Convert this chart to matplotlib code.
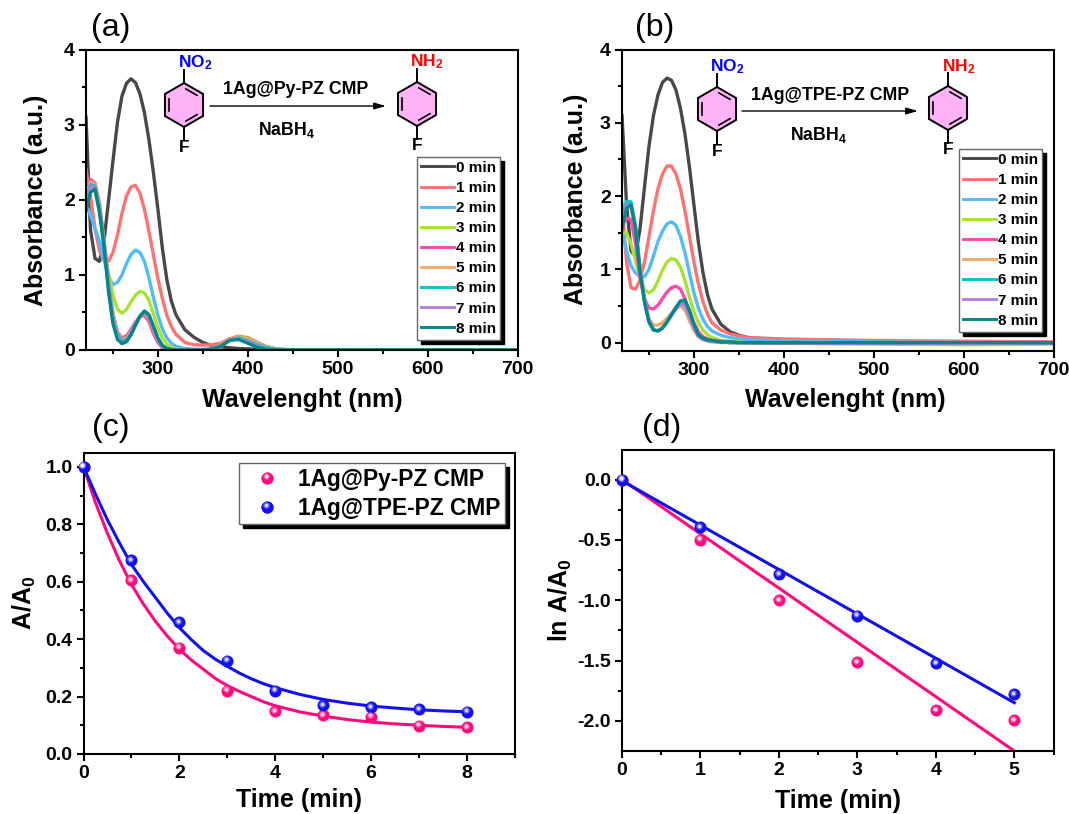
import matplotlib
matplotlib.use("Agg")
import matplotlib.pyplot as plt
from matplotlib.lines import Line2D
from matplotlib.patches import Polygon
from matplotlib.transforms import offset_copy

plt.rcParams['font.family'] = ['Liberation Sans', 'DejaVu Sans']
plt.rcParams['font.weight'] = 'bold'
plt.rcParams['axes.labelweight'] = 'bold'
plt.rcParams['axes.unicode_minus'] = False
plt.rcParams['mathtext.default'] = 'regular'

W, H = 1069, 814

minutes = ['0 min', '1 min', '2 min', '3 min', '4 min', '5 min', '6 min', '7 min', '8 min']
line_colors = ['#484848', '#ff7272', '#52baff', '#a6e32f', '#ff48a8', '#f5a866', '#00c6c6', '#b17fe0', '#00878a']

# panel (a) spectra
wl_a = [220, 225, 230, 235, 240, 245, 250, 255, 260, 265, 270, 275, 280, 285, 290, 295, 300, 305, 310, 315, 320,
        330, 340, 350, 360, 370, 380, 390, 400, 410, 420, 430, 440, 450, 500, 700]
a_0 = [3.1, 1.6, 1.22, 1.18, 1.45, 1.98, 2.52, 3.03, 3.38, 3.55, 3.61, 3.56, 3.41, 3.16, 2.8, 2.36, 1.87, 1.35, 0.93, 0.65, 0.47,
       0.27, 0.17, 0.1, 0.06, 0.04, 0.03, 0.02, 0.015, 0.01, 0.005, 0, 0, 0, 0, 0]
a_1 = [2.4, 2.05, 1.62, 1.32, 1.19, 1.18, 1.3, 1.53, 1.82, 2.05, 2.17, 2.19, 2.09, 1.87, 1.58, 1.26, 0.95, 0.68, 0.46, 0.31, 0.21,
       0.1, 0.07, 0.065, 0.07, 0.09, 0.15, 0.185, 0.165, 0.105, 0.05, 0.02, 0.01, 0.003, 0, 0]
a_2 = [1.95, 1.8, 1.62, 1.45, 1.2, 0.97, 0.87, 0.9, 1.0, 1.15, 1.27, 1.33, 1.3, 1.18, 0.96, 0.7, 0.46, 0.28, 0.16, 0.09, 0.05,
       0.02, 0.01, 0.01, 0.02, 0.06, 0.13, 0.17, 0.145, 0.09, 0.04, 0.015, 0.005, 0, 0, 0]
a_3 = [2.05, 2.15, 2.12, 1.85, 1.4, 1.02, 0.73, 0.54, 0.49, 0.54, 0.64, 0.73, 0.78, 0.76, 0.66, 0.48, 0.3, 0.16, 0.08, 0.03, 0.01,
       0, 0, 0, 0.01, 0.06, 0.13, 0.175, 0.15, 0.09, 0.04, 0.015, 0.005, 0, 0, 0]
a_4 = [2.1, 2.27, 2.22, 1.95, 1.45, 0.92, 0.47, 0.24, 0.16, 0.19, 0.27, 0.37, 0.44, 0.46, 0.38, 0.22, 0.1, 0.03, 0, 0, 0,
       0, 0, 0, 0.01, 0.06, 0.13, 0.16, 0.13, 0.08, 0.03, 0.01, 0, 0, 0, 0]
a_5 = [2.05, 2.24, 2.2, 1.93, 1.47, 0.93, 0.48, 0.23, 0.14, 0.16, 0.24, 0.35, 0.44, 0.49, 0.43, 0.27, 0.13, 0.05, 0.01, 0, 0,
       0, 0, 0, 0.01, 0.06, 0.14, 0.17, 0.13, 0.08, 0.03, 0.01, 0, 0, 0, 0]
a_6 = [2.0, 2.2, 2.18, 1.9, 1.45, 0.88, 0.43, 0.2, 0.12, 0.14, 0.22, 0.34, 0.45, 0.5, 0.45, 0.29, 0.14, 0.05, 0.02, 0, 0,
       0, 0, 0, 0.01, 0.05, 0.13, 0.16, 0.12, 0.07, 0.03, 0.01, 0, 0, 0, 0]
a_7 = [1.95, 2.18, 2.16, 1.87, 1.42, 0.84, 0.39, 0.17, 0.1, 0.12, 0.21, 0.33, 0.45, 0.51, 0.46, 0.3, 0.15, 0.06, 0.02, 0, 0,
       0, 0, 0, 0.01, 0.05, 0.13, 0.15, 0.11, 0.06, 0.02, 0.01, 0, 0, 0, 0]
a_8 = [1.85, 2.1, 2.14, 1.83, 1.38, 0.78, 0.35, 0.14, 0.085, 0.11, 0.2, 0.33, 0.45, 0.52, 0.47, 0.32, 0.16, 0.06, 0.02, 0.01, 0,
       0, 0, 0, 0.01, 0.05, 0.13, 0.14, 0.09, 0.04, 0.01, 0, 0, 0, 0, 0]
spectra_a = [a_0, a_1, a_2, a_3, a_4, a_5, a_6, a_7, a_8]

# panel (b) spectra
wl_b = [220, 225, 230, 235, 240, 245, 250, 255, 260, 265, 270, 275, 280, 285, 290, 295, 300, 305, 310, 315, 320,
        330, 340, 350, 360, 380, 400, 500, 600, 700]
b_0 = [3.1, 1.9, 1.25, 1.18, 1.55, 2.12, 2.68, 3.1, 3.38, 3.55, 3.61, 3.58, 3.45, 3.2, 2.85, 2.4, 1.88, 1.37, 0.96, 0.66, 0.46,
       0.25, 0.15, 0.1, 0.07, 0.05, 0.04, 0.02, 0.01, 0]
b_1 = [1.9, 1.1, 0.75, 0.73, 0.85, 1.1, 1.45, 1.8, 2.1, 2.3, 2.41, 2.41, 2.3, 2.1, 1.8, 1.45, 1.1, 0.8, 0.56, 0.39, 0.27,
       0.17, 0.12, 0.09, 0.07, 0.06, 0.05, 0.03, 0.02, 0.01]
b_2 = [1.55, 1.25, 1.05, 0.95, 0.9, 0.9, 1.0, 1.18, 1.38, 1.52, 1.62, 1.65, 1.6, 1.45, 1.23, 0.95, 0.68, 0.47, 0.32, 0.22, 0.16,
       0.1, 0.07, 0.05, 0.04, 0.03, 0.02, 0.01, 0, 0]
b_3 = [1.5, 1.5, 1.35, 1.12, 0.88, 0.72, 0.68, 0.72, 0.84, 0.99, 1.1, 1.15, 1.13, 1.03, 0.85, 0.62, 0.42, 0.27, 0.17, 0.11, 0.07,
       0.03, 0.02, 0.01, 0, -0.01, -0.01, -0.02, -0.03, -0.02]
b_4 = [1.6, 1.7, 1.68, 1.35, 0.9, 0.6, 0.47, 0.46, 0.51, 0.6, 0.69, 0.75, 0.77, 0.73, 0.6, 0.43, 0.27, 0.15, 0.08, 0.05, 0.03,
       0.02, 0.01, 0, 0, 0, 0, -0.01, -0.01, -0.01]
b_5 = [1.6, 1.85, 1.85, 1.55, 1.05, 0.58, 0.32, 0.24, 0.24, 0.27, 0.33, 0.4, 0.47, 0.5, 0.45, 0.3, 0.17, 0.08, 0.04, 0.02, 0.01,
       0, 0, 0, 0, 0, 0, -0.01, -0.01, 0]
b_6 = [1.7, 1.93, 1.92, 1.6, 1.02, 0.58, 0.3, 0.18, 0.16, 0.2, 0.28, 0.38, 0.47, 0.55, 0.52, 0.36, 0.2, 0.09, 0.05, 0.03, 0.02,
       0.01, 0, 0, 0, 0, 0, 0, 0, 0]
b_7 = [1.6, 1.88, 1.88, 1.58, 1.0, 0.56, 0.29, 0.18, 0.16, 0.2, 0.28, 0.37, 0.46, 0.53, 0.5, 0.36, 0.2, 0.09, 0.05, 0.03, 0.02,
       0.01, 0, 0, 0, -0.01, -0.01, -0.01, -0.01, 0]
b_8 = [1.55, 1.83, 1.88, 1.55, 0.97, 0.55, 0.28, 0.17, 0.16, 0.2, 0.28, 0.38, 0.48, 0.57, 0.58, 0.44, 0.25, 0.11, 0.06, 0.04, 0.03,
       0.01, 0.01, 0, 0, 0, 0, 0, 0, 0]
spectra_b = [b_0, b_1, b_2, b_3, b_4, b_5, b_6, b_7, b_8]

# panel (c)
time_c = [0, 1, 2, 3, 4, 5, 6, 7, 8]
py_c = [1.0, 0.605, 0.37, 0.22, 0.15, 0.135, 0.13, 0.098, 0.093]
tpe_c = [1.0, 0.675, 0.458, 0.325, 0.22, 0.17, 0.162, 0.155, 0.148]
fit_t = [0, 0.25, 0.5, 0.75, 1, 1.25, 1.5, 1.75, 2, 2.25, 2.5, 2.75, 3, 3.25, 3.5, 3.75, 4, 4.5, 5, 5.5, 6, 6.5, 7, 7.5, 8]
py_fit = [1.0, 0.875, 0.768, 0.673, 0.59, 0.522, 0.462, 0.41, 0.365, 0.327, 0.295, 0.263, 0.238, 0.218, 0.2, 0.182, 0.168,
          0.147, 0.132, 0.12, 0.111, 0.105, 0.1, 0.096, 0.093]
tpe_fit = [1.0, 0.905, 0.815, 0.735, 0.66, 0.6, 0.545, 0.49, 0.44, 0.398, 0.36, 0.33, 0.305, 0.282, 0.262, 0.245, 0.231,
           0.208, 0.19, 0.177, 0.167, 0.16, 0.154, 0.15, 0.147]

# panel (d)
time_d = [0, 1, 2, 3, 4, 5]
py_d = [0, -0.5, -1.0, -1.515, -1.91, -1.995]
tpe_d = [0, -0.395, -0.785, -1.13, -1.52, -1.78]
line_t = [0, 5]
py_line = [0, -2.25]
tpe_line = [-0.01, -1.85]

PINK = '#ff0a7c'
BLUE = '#1010f0'
RING = '#ffb3f7'


def make_axes(left, top, right, bottom):
    ax = fig.add_axes([left / W, 1 - bottom / H, (right - left) / W, (bottom - top) / H])
    for s in ax.spines.values():
        s.set_linewidth(1.5)
    ax.tick_params(which='major', length=5, width=1.5, labelsize=14, pad=3)
    ax.tick_params(which='minor', length=3, width=1.5)
    return ax


def set_labels(ax, xlabel, xpos, ylabel, ypos):
    ax.set_xlabel(xlabel, fontsize=18, va='center')
    ax.set_ylabel(ylabel, fontsize=18, va='center')
    ax.xaxis.set_label_coords(xpos[0], xpos[1], transform=over.transData)
    ax.yaxis.set_label_coords(ypos[0], ypos[1], transform=over.transData)


def spheres(ax, x, y, color, size=75):
    # ball look: base dot plus two lighter dots shifted up and left
    ax.scatter(x, y, s=size, color=color, lw=0, clip_on=False, zorder=4)
    tr = offset_copy(ax.transData, fig=fig, x=-0.8, y=1.0, units='points')
    ax.scatter(x, y, s=size * 0.3, color='white', alpha=0.3, lw=0, clip_on=False, zorder=5, transform=tr)
    ax.scatter(x, y, s=size * 0.1, color='white', alpha=0.75, lw=0, clip_on=False, zorder=6, transform=tr)


def molecule(cx, cy, label, color, lx, ly):
    r = 22
    dx = r * 0.866
    pts = [(cx, cy - r), (cx + dx, cy - r / 2), (cx + dx, cy + r / 2), (cx, cy + r), (cx - dx, cy + r / 2), (cx - dx, cy - r / 2)]
    over.add_patch(Polygon(pts, closed=True, fc=RING, ec='black', lw=1.4))
    for i in (0, 2, 4):
        x0, y0 = pts[i]
        x1, y1 = pts[i + 1]
        f = 0.78
        ax0 = cx + (x0 - cx) * f + (x1 - x0) * 0.1
        ay0 = cy + (y0 - cy) * f + (y1 - y0) * 0.1
        ax1 = cx + (x1 - cx) * f - (x1 - x0) * 0.1
        ay1 = cy + (y1 - cy) * f - (y1 - y0) * 0.1
        over.plot([ax0, ax1], [ay0, ay1], color='black', lw=1.2)
    over.plot([cx, cx], [cy - r, cy - r - 13], color='black', lw=1.4)
    over.plot([cx, cx], [cy + r, cy + r + 13], color='black', lw=1.4)
    over.text(lx, ly, label, color=color, fontsize=12.5, ha='center', va='center')
    over.text(cx, cy + r + 20, 'F', color='black', fontsize=12.5, ha='center', va='center')


def scheme(x0, x1, y, catalyst, tx, nx):
    over.annotate('', xy=(x1, y), xytext=(x0, y),
                  arrowprops=dict(arrowstyle='-|>,head_length=0.7,head_width=0.2', color='black', lw=1, shrinkA=0, shrinkB=0))
    over.text(tx, y - 16, catalyst, fontsize=12.8, ha='center', va='center')
    over.text(nx, y + 24, 'NaBH$_4$', fontsize=12.8, ha='center', va='center')


def spectra_legend(ax, x, y):
    leg = ax.legend(loc='upper left', bbox_to_anchor=(x, y), bbox_transform=over.transData, fontsize=11,
                    handlelength=2.2, handletextpad=0.12, labelspacing=0.4, borderpad=0.25, borderaxespad=0,
                    fancybox=False, edgecolor='#666666', framealpha=1,
                    shadow={'color': 'black', 'alpha': 1, 'ox': 3, 'oy': -3})
    leg.get_frame().set_linewidth(1)
    for ln in leg.get_lines():
        ln.set_linewidth(2.1)


fig = plt.figure(figsize=(W / 100, H / 100), dpi=100)

# whole figure overlay in pixel coordinates, for the schemes and panel letters
over = fig.add_axes([0, 0, 1, 1], zorder=10)
over.set_xlim(0, W)
over.set_ylim(H, 0)
over.axis('off')

# (a)
ax_a = make_axes(86, 49.5, 517.5, 350)
for vals, lab, col in zip(spectra_a, minutes, line_colors):
    ax_a.plot(wl_a, vals, color=col, lw=2.4, label=lab)
ax_a.set_xlim(220, 700)
ax_a.set_ylim(0, 4)

# (b)
ax_b = make_axes(622, 49.5, 1053.5, 350.7)
for vals, lab, col in zip(spectra_b, minutes, line_colors):
    ax_b.plot(wl_b, vals, color=col, lw=2.4, label=lab)
ax_b.set_xlim(220, 700)
ax_b.set_ylim(-0.11, 4)

for ax in (ax_a, ax_b):
    ax.set_xticks([300, 400, 500, 600, 700])
    ax.set_xticks([250, 350, 450, 550, 650], minor=True)
    ax.set_yticks([0, 1, 2, 3, 4])
    ax.set_yticks([0.5, 1.5, 2.5, 3.5], minor=True)

set_labels(ax_a, 'Wavelenght (nm)', (302, 400), 'Absorbance (a.u.)', (36, 200))
set_labels(ax_b, 'Wavelenght (nm)', (845, 400), 'Absorbance (a.u.)', (576, 199))
spectra_legend(ax_a, 417, 157)
spectra_legend(ax_b, 959, 149)

# (c)
ax_c = make_axes(83.5, 452.5, 515, 754)
ax_c.plot(fit_t, py_fit, color=PINK, lw=2.2)
ax_c.plot(fit_t, tpe_fit, color=BLUE, lw=2.2)
spheres(ax_c, time_c, py_c, PINK)
spheres(ax_c, time_c, tpe_c, BLUE)
ax_c.set_xlim(0, 9)
ax_c.set_ylim(0, 1.05)
ax_c.set_xticks([0, 2, 4, 6, 8])
ax_c.set_xticks([1, 3, 5, 7, 9], minor=True)
ax_c.set_yticks([0, 0.2, 0.4, 0.6, 0.8, 1.0])
ax_c.set_yticks([0.1, 0.3, 0.5, 0.7, 0.9], minor=True)
set_labels(ax_c, 'Time (min)', (299, 800), 'A/A$_0$', (24, 603))
handles = [Line2D([], [], ls='none', marker='o', ms=8.6, color=PINK, mew=0),
           Line2D([], [], ls='none', marker='o', ms=8.6, color=BLUE, mew=0)]
leg_c = ax_c.legend(handles, ['1Ag@Py-PZ CMP', '1Ag@TPE-PZ CMP'], loc='upper left', bbox_to_anchor=(239, 463),
                    bbox_transform=over.transData, fontsize=16.4, handlelength=2.1, handletextpad=0.3, labelspacing=0.265,
                    borderpad=0.2, borderaxespad=0, fancybox=False, edgecolor='#666666', framealpha=1,
                    shadow={'color': 'black', 'alpha': 1, 'ox': 3, 'oy': -3})
leg_c.get_frame().set_linewidth(1)

# (d)
ax_d = make_axes(622, 450, 1053.5, 751)
ax_d.plot(line_t, py_line, color=PINK, lw=2.2)
ax_d.plot(line_t, tpe_line, color=BLUE, lw=2.2)
spheres(ax_d, time_d, py_d, PINK)
spheres(ax_d, time_d, tpe_d, BLUE)
ax_d.set_xlim(0, 5.5)
ax_d.set_ylim(-2.25, 0.245)
ax_d.set_xticks([0, 1, 2, 3, 4, 5])
ax_d.set_xticks([0.5, 1.5, 2.5, 3.5, 4.5, 5.5], minor=True)
ax_d.set_yticks([0, -0.5, -1.0, -1.5, -2.0])
ax_d.set_yticklabels(['0.0', '-0.5', '-1.0', '-1.5', '-2.0'])
ax_d.set_yticks([-0.25, -0.75, -1.25, -1.75], minor=True)
set_labels(ax_d, 'Time (min)', (838, 801), 'ln A/A$_0$', (560, 600))

# panel letters
for lab, x, y in [('(a)', 111, 28), ('(b)', 655, 28), ('(c)', 111, 428), ('(d)', 662, 428)]:
    over.text(x, y, lab, fontsize=23, fontweight='normal', ha='center', va='center')

# reaction schemes
molecule(184, 105, 'NO$_2$', '#0000ff', 195, 63)
molecule(417, 104, 'NH$_2$', '#ff0000', 427, 62)
scheme(210, 386, 106, '1Ag@Py-PZ CMP', 296, 287)
molecule(717, 109, 'NO$_2$', '#0000ff', 727, 67)
molecule(948, 108, 'NH$_2$', '#ff0000', 959, 67)
scheme(742, 918, 111, '1Ag@TPE-PZ CMP', 830, 819)

# shine on the legend balls of panel (c), placed where the legend put its handles
fig.canvas.draw()
for hd, col in zip(leg_c.legend_handles, [PINK, BLUE]):
    px = hd.get_transform().transform(hd.get_xydata()).mean(axis=0)
    bx, by = over.transData.inverted().transform(px)
    spheres(over, [bx], [by], col)

fig.savefig('out.png', dpi=100)
